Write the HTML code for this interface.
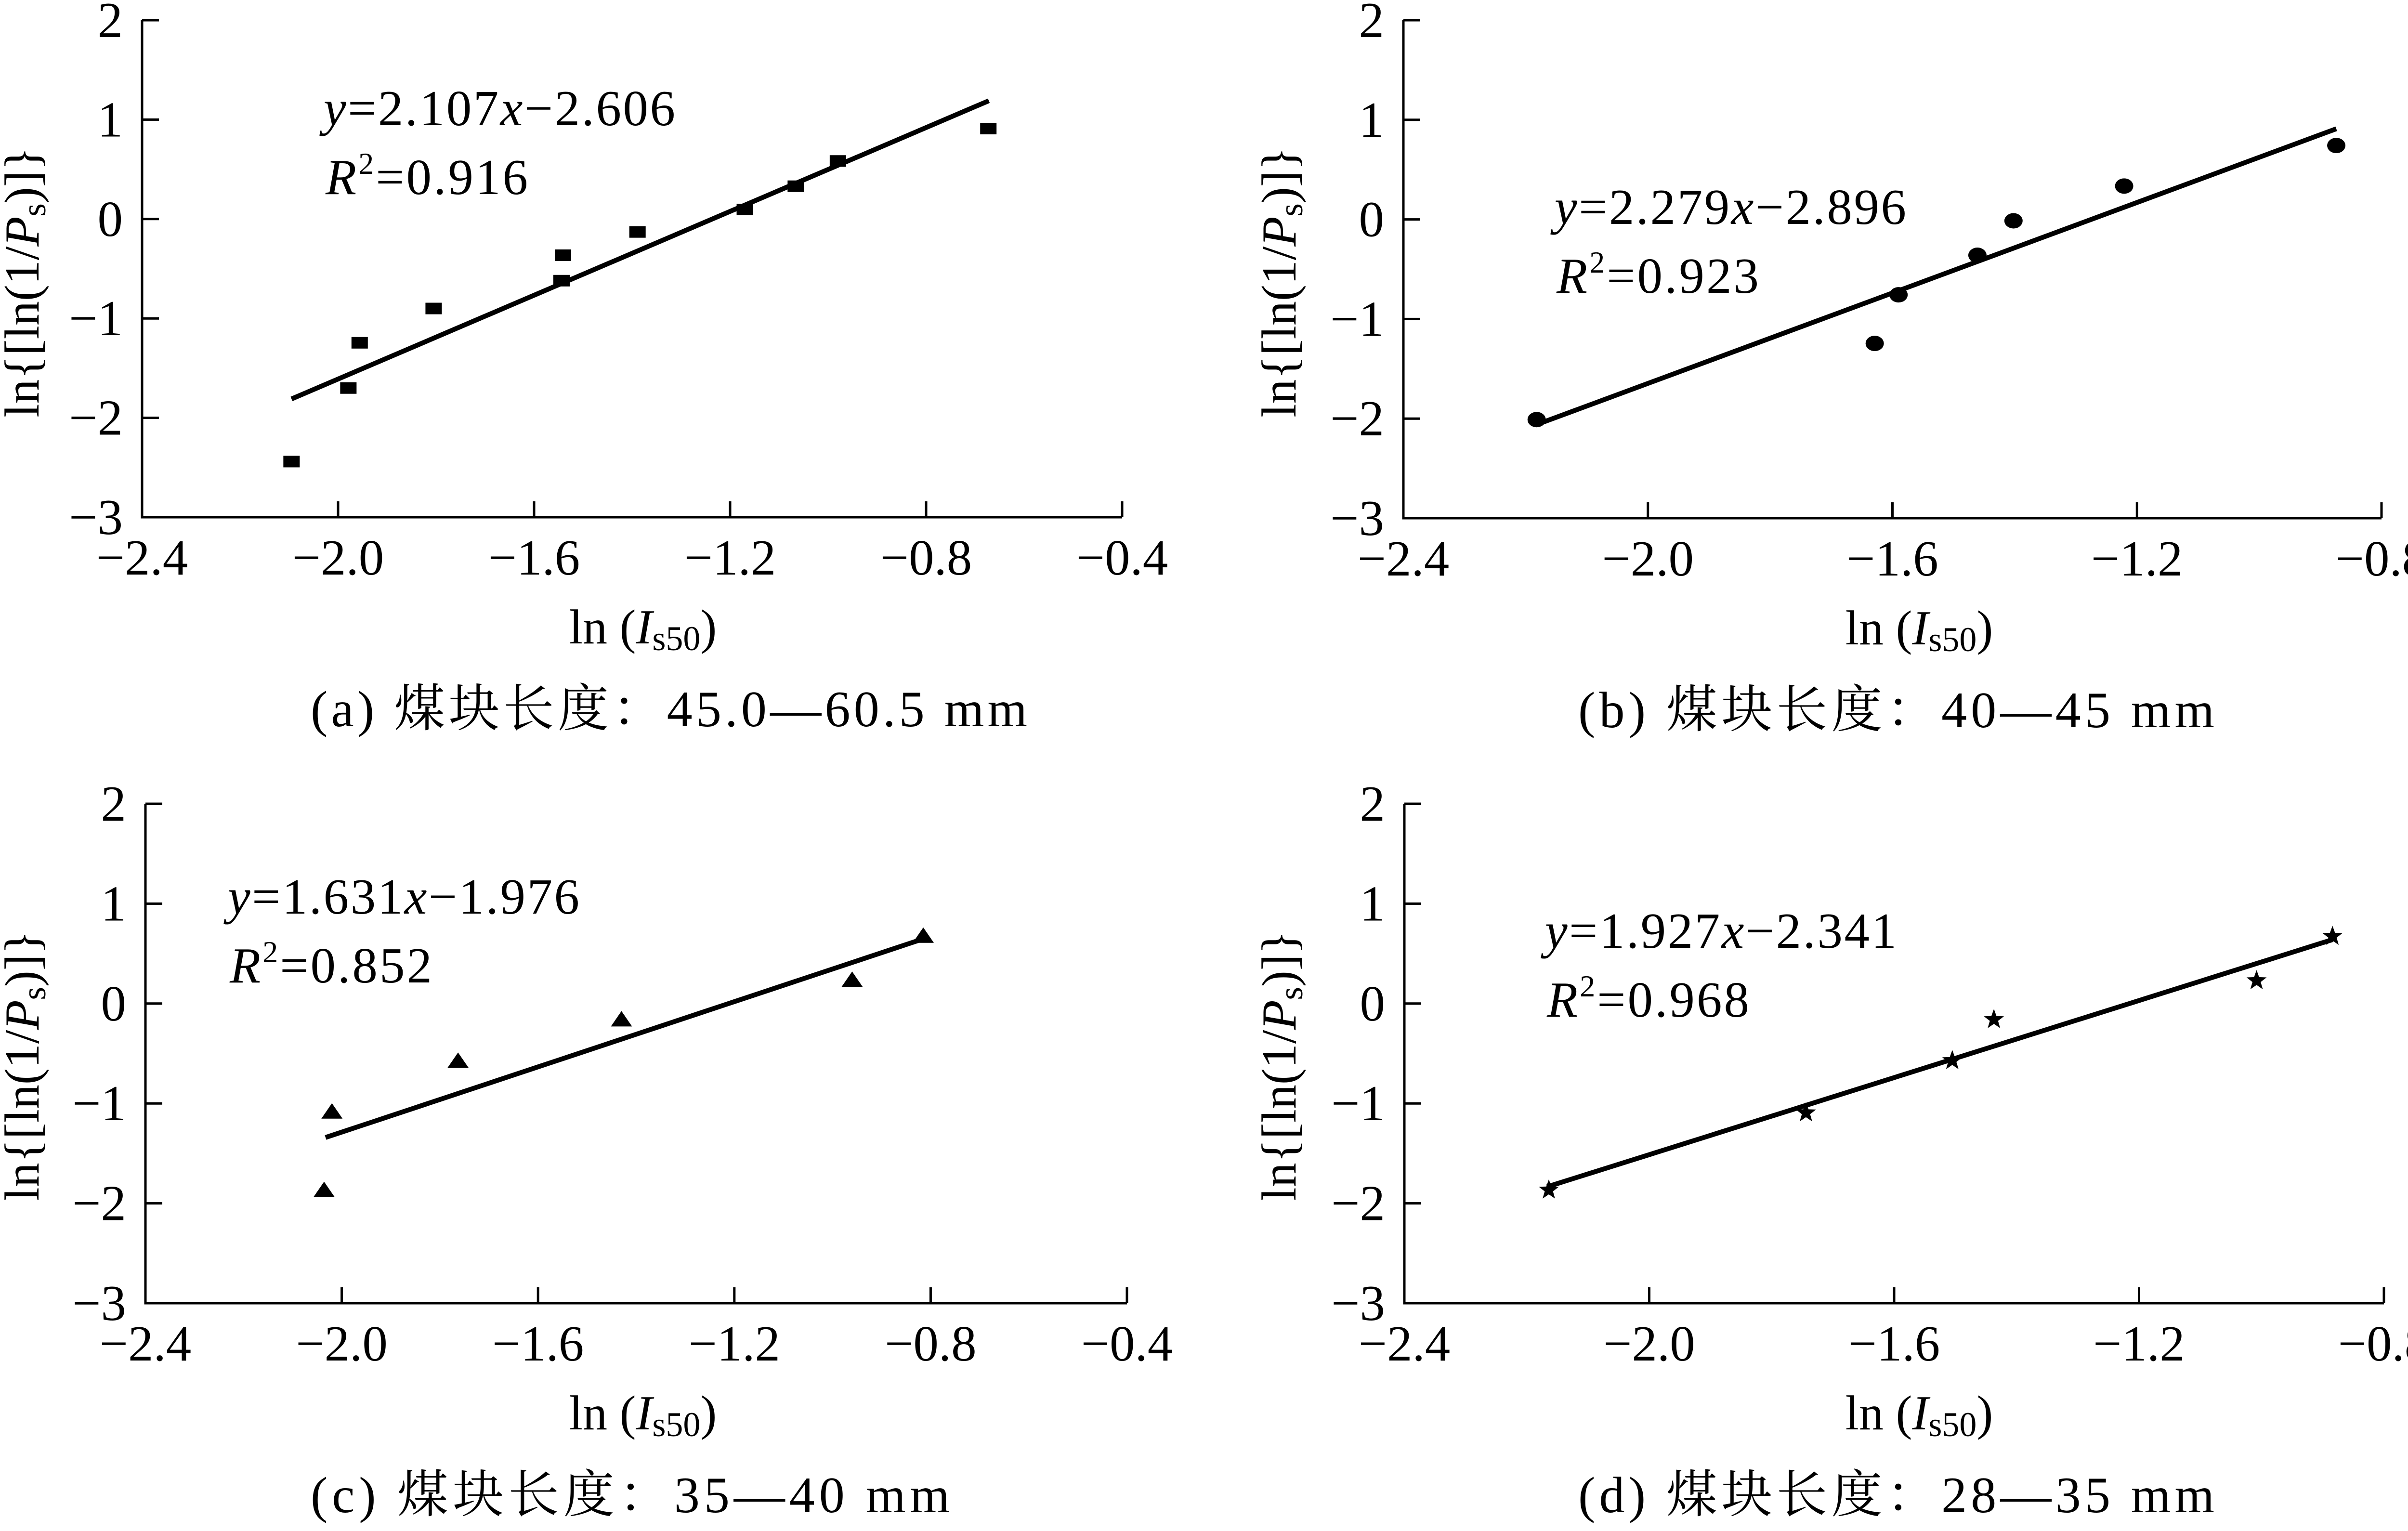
<!DOCTYPE html>
<html><head><meta charset="utf-8">
<style>
html,body{margin:0;padding:0;background:#fff;}
svg{display:block;}
text{font-family:"Liberation Serif","Noto Serif CJK SC","Noto Sans CJK SC",serif;fill:#000;}
</style></head>
<body>
<svg id="fig" width="5052" height="3179" viewBox="0 0 5052 3179" xmlns="http://www.w3.org/2000/svg"></svg>
<script>
// ---- data ----
const aX = [-2.095,-1.979,-1.956,-1.805,-1.544,-1.541,-1.389,-1.170,-1.066,-0.980,-0.673];
const aY = [-2.44,-1.70,-1.245,-0.90,-0.62,-0.364,-0.13,0.096,0.33,0.584,0.91];
const aLineX = [-2.095,-0.672];
const aLineY = [-1.81,1.19];
const bX = [-2.182,-1.629,-1.590,-1.461,-1.402,-1.221,-0.874];
const bY = [-2.01,-1.245,-0.757,-0.36,-0.014,0.335,0.742];
const bLineX = [-2.182,-0.874];
const bLineY = [-2.06,0.91];
const cX = [-2.036,-2.020,-1.763,-1.430,-0.960,-0.815];
const cY = [-1.865,-1.08,-0.572,-0.157,0.239,0.68];
const cLineX = [-2.033,-0.821];
const cLineY = [-1.341,0.638];
const dX = [-2.164,-1.744,-1.505,-1.437,-1.008,-0.884];
const dY = [-1.867,-1.094,-0.571,-0.16,0.229,0.673];
const dLineX = [-2.167,-0.884];
const dLineY = [-1.835,0.64];
const yTicks = [2,1,0,-1,-2,-3];
const xTicksA = [-2.4,-2.0,-1.6,-1.2,-0.8,-0.4];
const xTicksB = [-2.4,-2.0,-1.6,-1.2,-0.8];
const eqA = ["2.107","2.606","0.916"];
const eqB = ["2.279","2.896","0.923"];
const eqC = ["1.631","1.976","0.852"];
const eqD = ["1.927","2.341","0.968"];

const NS="http://www.w3.org/2000/svg";
const svg=document.getElementById('fig');
function mk(tag,attrs,parent){const e=document.createElementNS(NS,tag);for(const k in attrs)e.setAttribute(k,attrs[k]);(parent||svg).appendChild(e);return e;}

function panel(id,cfg){
  const g=mk('g',{});
  
  
  const sx=v=>cfg.x0+(v-cfg.xmin)/(cfg.xmax-cfg.xmin)*(cfg.x1-cfg.x0);
  const sy=v=>cfg.yTop+(2-v)/5*(cfg.yBot-cfg.yTop);
  const ax=mk('path',{d:`M${cfg.x0},${cfg.yTop} L${cfg.x0},${cfg.yBot} L${cfg.x1},${cfg.yBot}`,fill:'none',stroke:'#000','stroke-width':5},g);
  
  
  yTicks.forEach(t=>{
    const y=sy(t);
    const tk=mk('line',{x1:cfg.x0,y1:y,x2:cfg.x0+35,y2:y,stroke:'#000','stroke-width':5},g);
    
    
    const tl=mk('text',{x:cfg.x0-40,y:y+35,'text-anchor':'end','font-size':105},g);
    tl.textContent=(t<0?"\u2212":"")+Math.abs(t);
    
    
  });
  cfg.xt.forEach(t=>{
    const x=sx(t);
    const tk=mk('line',{x1:x,y1:cfg.yBot,x2:x,y2:cfg.yBot-33,stroke:'#000','stroke-width':5},g);
    
    
    const tl=mk('text',{x:x,y:cfg.yBot+119,'text-anchor':'middle','font-size':105},g);
    tl.textContent="\u2212"+Math.abs(t).toFixed(1);
    
    
  });
  const ln=mk('line',{x1:sx(cfg.lx[0]),y1:sy(cfg.ly[0]),x2:sx(cfg.lx[1]),y2:sy(cfg.ly[1]),stroke:'#000','stroke-width':10},g);
  
  
  cfg.px.forEach((v,i)=>{
    const x=sx(v),y=sy(cfg.py[i]);let m;
    if(cfg.marker==='square') m=mk('rect',{x:x-17,y:y-12,width:34,height:24,fill:'#000'},g);
    else if(cfg.marker==='circle') m=mk('ellipse',{cx:x,cy:y,rx:19,ry:16,fill:'#000'},g);
    else if(cfg.marker==='triangle') m=mk('polygon',{points:`${x},${y-17} ${x+22},${y+15} ${x-22},${y+15}`,fill:'#000'},g);
    else {
      let pts=[];for(let k=0;k<10;k++){const r=k%2?9:22;const a=-Math.PI/2+k*Math.PI/5;pts.push((x+r*Math.cos(a)).toFixed(1)+','+(y+r*Math.sin(a)).toFixed(1));}
      m=mk('polygon',{points:pts.join(' '),fill:'#000'},g);
    }
    
    
  });
  const eq=mk('text',{x:cfg.ex,y:cfg.ey,'font-size':105,textLength:730,lengthAdjust:'spacing'},g);
  eq.innerHTML=`<tspan font-style="italic">y</tspan>=${cfg.eq[0]}<tspan font-style="italic">x</tspan>\u2212${cfg.eq[1]}`;
  
  
  const r2=mk('text',{x:cfg.ex+4,y:cfg.ey+143,'font-size':105,textLength:420,lengthAdjust:'spacing'},g);
  r2.innerHTML=`<tspan font-style="italic">R</tspan><tspan font-size="64" dy="-42">2</tspan><tspan dy="42">=${cfg.eq[2]}</tspan>`;
  
  
  const xt=mk('text',{x:cfg.xtX,y:cfg.yBot+262,'text-anchor':'middle','font-size':102},g);
  xt.innerHTML=`ln (<tspan font-style="italic">I</tspan><tspan font-size="72" dy="14">s50</tspan><tspan dy="-14">)</tspan>`;
  
  
  const yc=cfg.yTop+544;
  const yt=mk('text',{x:0,y:0,'text-anchor':'middle','font-size':102,transform:`translate(${cfg.ytX},${yc}) rotate(-90)`},g);
  yt.innerHTML=`ln{[ln(1/<tspan font-style="italic">P</tspan><tspan font-size="70" dy="14">s</tspan><tspan dy="-14">)]}</tspan>`;
  
  
  const cap=mk('text',{x:cfg.capX,y:cfg.yBot+434,'font-size':106,textLength:cfg.capW,lengthAdjust:'spacing'},g);
  cap.textContent=cfg.cap;
  
  
}

panel('a',{x0:295,x1:2330,xmin:-2.4,xmax:-0.4,yTop:42,yBot:1074,xt:xTicksA,px:aX,py:aY,lx:aLineX,ly:aLineY,marker:'square',eq:eqA,ex:672,ey:260,xtX:1335,ytX:80,capX:645,capW:1488,cap:"(a)  煤块长度：45.0—60.5 mm"});
panel('b',{x0:2914,x1:4945,xmin:-2.4,xmax:-0.8,yTop:42,yBot:1076,xt:xTicksB,px:bX,py:bY,lx:bLineX,ly:bLineY,marker:'circle',eq:eqB,ex:3228,ey:465,xtX:3985,ytX:2690,capX:3277,capW:1321,cap:"(b)  煤块长度：40—45 mm"});
panel('c',{x0:302,x1:2340,xmin:-2.4,xmax:-0.4,yTop:1669,yBot:2706,xt:xTicksA,px:cX,py:cY,lx:cLineX,ly:cLineY,marker:'triangle',eq:eqC,ex:473,ey:1897,xtX:1335,ytX:80,capX:645,capW:1327,cap:"(c)  煤块长度：35—40 mm"});
panel('d',{x0:2916,x1:4950,xmin:-2.4,xmax:-0.8,yTop:1669,yBot:2706,xt:xTicksB,px:dX,py:dY,lx:dLineX,ly:dLineY,marker:'star',eq:eqD,ex:3208,ey:1968,xtX:3985,ytX:2690,capX:3277,capW:1321,cap:"(d)  煤块长度：28—35 mm"});
</script>
</body></html>
